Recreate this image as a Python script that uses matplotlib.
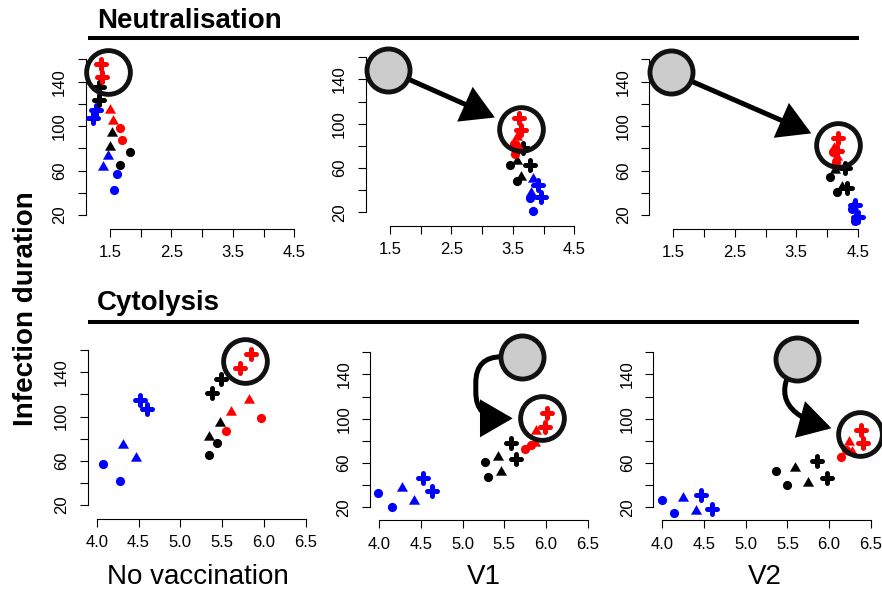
import matplotlib
matplotlib.use('Agg')
import matplotlib.pyplot as plt
from matplotlib.markers import MarkerStyle
from matplotlib.lines import Line2D

plt.rcParams['font.family'] = ['Liberation Sans', 'DejaVu Sans']

# each group (colour + symbol) holds two simulated points
colours = ['blue'] * 6 + ['black'] * 6 + ['red'] * 6
symbols = ['circle', 'circle', 'triangle', 'triangle', 'plus', 'plus'] * 3

# x: log10 viral load (?), y: infection duration
neut_none_x = [1.62, 1.56, 1.47, 1.39, 1.28, 1.23,
               1.83, 1.67, 1.54, 1.50, 1.32, 1.32,
               1.67, 1.70, 1.50, 1.55, 1.35, 1.37]
neut_none_y = [57, 42.5, 73, 63, 114.5, 107,
               77, 65, 93.5, 81, 135.5, 123.5,
               98.6, 87.5, 114.5, 104.6, 156, 144]

neut_v1_x = [3.78, 3.83, 3.83, 3.80, 3.91, 3.95,
             3.45, 3.57, 3.56, 3.64, 3.67, 3.78,
             3.52, 3.54, 3.56, 3.58, 3.60, 3.63]
neut_v1_y = [33, 21, 50, 37, 45, 34,
             62.7, 48.3, 66, 52, 77.8, 62.7,
             82, 73, 88, 80, 104.8, 94.3]

neut_v2_x = [4.40, 4.45, 4.43, 4.47, 4.46, 4.51,
             4.05, 4.16, 4.13, 4.24, 4.29, 4.32,
             4.10, 4.14, 4.12, 4.16, 4.18, 4.17]
neut_v2_y = [25, 15, 28, 19, 29, 18.5,
             54, 41, 60.5, 45.5, 62, 44,
             77, 68, 80, 72, 89, 78]

cyt_none_x = [4.07, 4.28, 4.31, 4.47, 4.52, 4.60,
              5.34, 5.44, 5.34, 5.48, 5.38, 5.49,
              5.55, 5.97, 5.61, 5.82, 5.71, 5.84]
cyt_none_y = [57.3, 42, 74.3, 62.8, 115, 106.5,
              65.5, 76.3, 81.2, 93.9, 121.5, 134.2,
              86.6, 98.7, 103.8, 115, 143.9, 156.3]

cyt_v1_x = [3.99, 4.15, 4.28, 4.42, 4.53, 4.64,
            5.27, 5.30, 5.42, 5.46, 5.58, 5.64,
            5.75, 5.82, 5.87, 5.88, 6.01, 5.99]
cyt_v1_y = [32.6, 20.5, 37.7, 25.7, 46.2, 35,
            61.2, 47.6, 65.7, 52, 78.3, 63.3,
            72.3, 76, 78.3, 88.9, 104.8, 92.7]

cyt_v2_x = [4.00, 4.14, 4.25, 4.41, 4.47, 4.60,
            5.36, 5.49, 5.59, 5.75, 5.85, 5.98,
            6.14, 6.20, 6.24, 6.28, 6.38, 6.41]
cyt_v2_y = [26.3, 15.1, 28.1, 16.7, 31.1, 18.5,
            53, 40.4, 55.2, 42.2, 62, 46.2,
            65.7, 72, 79.2, 70.2, 89.8, 77.8]

# circled group (no vaccination optimum) and where it moved to
neut_start = [1.46, 148.5]
cyt_start_v1 = [5.71, 155.9]
cyt_start_v2 = [5.62, 153.4]
rings = {'neut_none': [1.46, 148.5], 'neut_v1': [3.64, 94.9], 'neut_v2': [4.18, 83.0],
         'cyt_none': [5.77, 150.5], 'cyt_v1': [5.95, 100.3], 'cyt_v2': [6.37, 85.9]}

neut_xticks = [1.5, 2.0, 2.5, 3.0, 3.5, 4.0, 4.5]
neut_xlabels = ['1.5', '', '2.5', '', '3.5', '', '4.5']
cyt_xticks = [4.0, 4.5, 5.0, 5.5, 6.0, 6.5]
cyt_xlabels = ['4.0', '4.5', '5.0', '5.5', '6.0', '6.5']
dur_ticks = [20, 40, 60, 80, 100, 120, 140, 160]
dur_labels = ['20', '', '60', '', '100', '', '140', '']

W, H = 882, 589
fig = plt.figure(figsize=(W / 100, H / 100), dpi=100)

tri = [(0, 0.577), (-0.5, -0.289), (0.5, -0.289)]
plus = MarkerStyle('+', capstyle='round')
sym_style = {'circle': dict(marker='o', ms=6.6, mew=0),
             'triangle': dict(marker=tri, ms=9.2, mew=0),
             'plus': dict(marker=plus, ms=6.6, mew=3.6)}
col_hex = {'blue': '#0000FF', 'black': '#000000', 'red': '#FF0000'}


def add_panel(left, bottom, xref, xref_px, xscale, yref, yref_px, yscale,
              width=220, height=180):
    ax = fig.add_axes([left / W, 1 - bottom / H, width / W, height / H])
    x0 = xref - (xref_px - left) / xscale
    ax.set_xlim(x0, x0 + width / xscale)
    y0 = yref - (bottom - yref_px) / yscale
    ax.set_ylim(y0, y0 + height / yscale)
    return ax


def style_axes(ax, xt, xl):
    ax.spines['top'].set_visible(False)
    ax.spines['right'].set_visible(False)
    ax.spines['left'].set_bounds(dur_ticks[0], dur_ticks[-1])
    ax.spines['bottom'].set_bounds(xt[0], xt[-1])
    ax.set_xticks(xt)
    ax.set_xticklabels(xl)
    ax.set_yticks(dur_ticks)
    ax.set_yticklabels(dur_labels)
    ax.tick_params(length=5.8, width=0.8, labelsize=12)
    ax.tick_params(axis='x', pad=6)
    ax.tick_params(axis='y', pad=7.5, labelrotation=90)
    for lab in ax.get_yticklabels():
        lab.set_va('center')
    for sp in ax.spines.values():
        sp.set_linewidth(0.8)
    ax.patch.set_visible(False)


def draw_points(ax, xs, ys):
    for x, y, c, s in zip(xs, ys, colours, symbols):
        ax.plot([x], [y], ls='none', color=col_hex[c], mec=col_hex[c],
                clip_on=False, zorder=3, **sym_style[s])


def draw_ring(ax, pos):
    ax.plot([pos[0]], [pos[1]], ls='none', marker='o', ms=31.5, mfc='none',
            mec='#111111', mew=3.5, clip_on=False, zorder=6)


def draw_start(ax, pos):
    ax.plot([pos[0]], [pos[1]], ls='none', marker='o', ms=31, mfc='#CCCCCC',
            mec='#111111', mew=3.5, clip_on=False, zorder=6)


def draw_arrow(ax, start, end, conn):
    ax.annotate('', xy=end, xytext=start, annotation_clip=False, zorder=5,
                arrowprops=dict(arrowstyle='-|>,head_length=0.55,head_width=0.32',
                                mutation_scale=33, lw=3.6, color='black',
                                shrinkA=0, shrinkB=21, connectionstyle=conn,
                                joinstyle='miter'))


# ---- Neutralisation row
axA = add_panel(85.7, 229, 1.5, 110, 61.43, 20, 215, 1.111)
axB = add_panel(365.7, 226, 1.5, 390, 61.43, 20, 212.3, 1.108)
axC = add_panel(649.3, 229, 1.5, 673.3, 61.47, 20, 215, 1.111)
for ax in [axA, axB, axC]:
    style_axes(ax, neut_xticks, neut_xlabels)

draw_points(axA, neut_none_x, neut_none_y)
draw_ring(axA, rings['neut_none'])

draw_points(axB, neut_v1_x, neut_v1_y)
draw_ring(axB, rings['neut_v1'])
draw_start(axB, neut_start)
draw_arrow(axB, neut_start, rings['neut_v1'], 'arc3,rad=0')

draw_points(axC, neut_v2_x, neut_v2_y)
draw_ring(axC, rings['neut_v2'])
draw_start(axC, neut_start)
draw_arrow(axC, neut_start, rings['neut_v2'], 'arc3,rad=0')

# ---- Cytolysis row
axD = add_panel(87.7, 519, 4.0, 96.7, 83.6, 20, 505, 1.106)
axE = add_panel(370, 520.3, 4.0, 379, 83.5, 20, 507.3, 1.108)
axF = add_panel(653.3, 520.3, 4.0, 662.3, 83.4, 20, 507.3, 1.108)
for ax in [axD, axE, axF]:
    style_axes(ax, cyt_xticks, cyt_xlabels)

draw_points(axD, cyt_none_x, cyt_none_y)
draw_ring(axD, rings['cyt_none'])

draw_points(axE, cyt_v1_x, cyt_v1_y)
draw_ring(axE, rings['cyt_v1'])
draw_start(axE, cyt_start_v1)
draw_arrow(axE, cyt_start_v1, rings['cyt_v1'],
           'arc,angleA=180,angleB=180,armA=46,armB=66,rad=26')

draw_points(axF, cyt_v2_x, cyt_v2_y)
draw_ring(axF, rings['cyt_v2'])
draw_start(axF, cyt_start_v2)
draw_arrow(axF, cyt_start_v2, rings['cyt_v2'], 'angle3,angleA=54,angleB=-9')

# ---- titles, separators, labels
fig.text(97 / W, 1 - 28.5 / H, 'Neutralisation', fontsize=20, weight='bold', va='baseline')
fig.text(97 / W, 1 - 310 / H, 'Cytolysis', fontsize=20, weight='bold', va='baseline')
for yy in [37.5, 321.5]:
    fig.add_artist(Line2D([88 / W, 859 / W], [1 - yy / H] * 2, lw=2.9, color='black',
                          solid_capstyle='butt'))

fig.text(198 / W, 1 - 584 / H, 'No vaccination', fontsize=20, ha='center', va='baseline')
fig.text(484 / W, 1 - 584 / H, 'V1', fontsize=20, ha='center', va='baseline')
fig.text(765 / W, 1 - 584 / H, 'V2', fontsize=20, ha='center', va='baseline')
fig.text(33 / W, 1 - 309 / H, 'Infection duration', fontsize=20, weight='bold',
         rotation=90, rotation_mode='anchor', ha='center', va='baseline')

fig.savefig('out.png', dpi=100)
